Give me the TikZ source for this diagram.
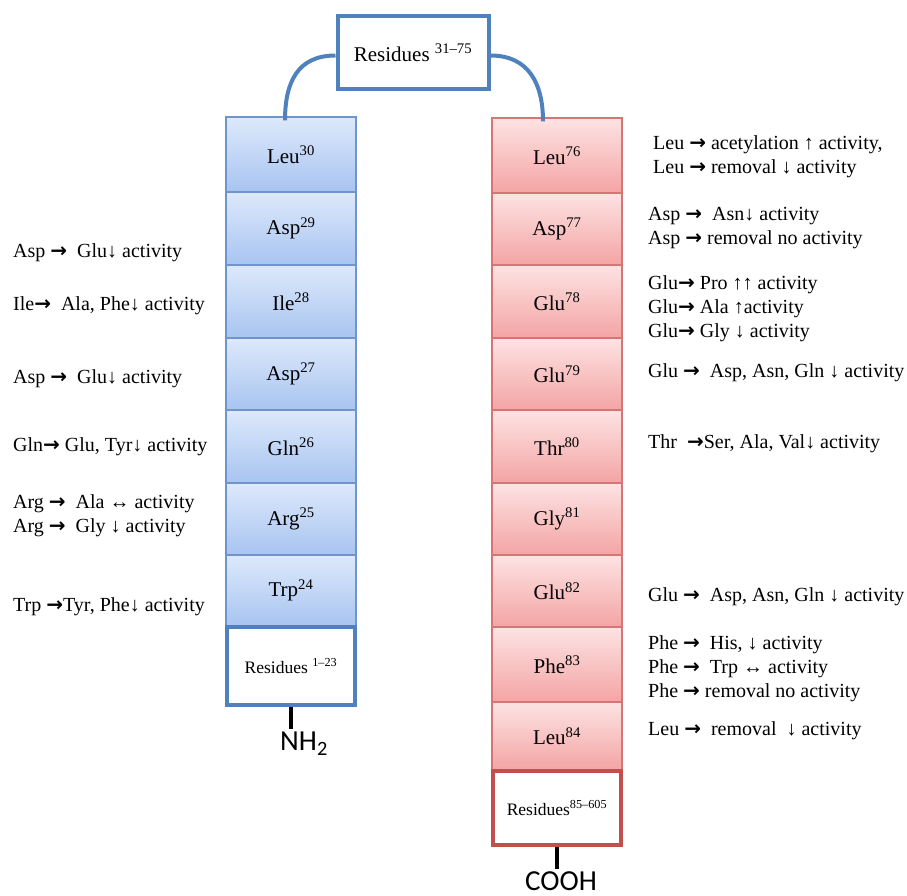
\documentclass[tikz,border=0pt]{standalone}
\usepackage{fontspec}
\setmainfont{Liberation Serif}
\newfontfamily\arrowfnt{DejaVu Sans Bold}
\newfontfamily\calib{Carlito}
\newcommand{\rarr}{\mbox{\arrowfnt →}}
\definecolor{bluetop}{HTML}{DDE9FB}
\definecolor{bluebot}{HTML}{A8C4F1}
\definecolor{blueline}{HTML}{6F95CB}
\definecolor{redtop}{HTML}{FDE3E3}
\definecolor{redbot}{HTML}{F4A4A4}
\definecolor{redline}{HTML}{D77474}
\definecolor{accblue}{HTML}{4F81BD}
\definecolor{accred}{HTML}{C0504D}
\tikzset{
  bluebox/.style={draw=blueline, line width=1.3pt, top color=bluetop, bottom color=bluebot,
    minimum width=130pt, inner sep=0pt, font=\rmfamily\fontsize{21}{24}\selectfont},
  redbox/.style={draw=redline, line width=1.3pt, top color=redtop, bottom color=redbot,
    minimum width=130pt, inner sep=0pt, font=\rmfamily\fontsize{21}{24}\selectfont},
  resblue/.style={draw=accblue, line width=4pt, fill=white, minimum width=128pt, inner sep=0pt,
    font=\rmfamily\fontsize{17.5}{20}\selectfont},
  resred/.style={draw=accred, line width=4pt, fill=white, minimum width=128pt, inner sep=0pt,
    font=\rmfamily\fontsize{17.5}{20}\selectfont},
  lab/.style={anchor=west, align=left, inner sep=0pt, font=\rmfamily\fontsize{20}{24}\selectfont},
  arcline/.style={draw=accblue, line width=4pt},
  stem/.style={draw=black, line width=3.5pt},
  term/.style={font=\calib\fontsize{29}{31}\selectfont, inner sep=0pt}
}
\begin{document}
\begin{tikzpicture}[x=1pt,y=-1pt]
\useasboundingbox (0,0) rectangle (907,896);
% top box
\node[draw=accblue, line width=4pt, fill=white, minimum width=151pt, minimum height=73pt,
  inner sep=0pt, font=\rmfamily\fontsize{21}{24}\selectfont] (top) at (413,52.5) {Residues \textsuperscript{31–75}};
% left column
\node[bluebox, minimum height=75pt] (leu30) at (291,154.5) {Leu\textsuperscript{30}};
\node[bluebox, minimum height=73pt] (asp29) at (291,228.5) {Asp\textsuperscript{29}};
\node[bluebox, minimum height=73pt] (ile28) at (291,301.5) {Ile\textsuperscript{28}};
\node[bluebox, minimum height=72pt] (asp27) at (291,374) {Asp\textsuperscript{27}};
\node[bluebox, minimum height=73pt] (gln26) at (291,446.5) {Gln\textsuperscript{26}};
\node[bluebox, minimum height=72pt] (arg25) at (291,519) {Arg\textsuperscript{25}};
\node[bluebox, minimum height=71pt] (trp24) at (291,590.5) {Trp\textsuperscript{24}};
\node[resblue, minimum height=78pt] (res1) at (291,666) {Residues \textsuperscript{1–23}};
% right column
\node[redbox, minimum height=75pt] (leu76) at (557,155.5) {Leu\textsuperscript{76}};
\node[redbox, minimum height=72pt] (asp77) at (557,229) {Asp\textsuperscript{77}};
\node[redbox, minimum height=73pt] (glu78) at (557,301.5) {Glu\textsuperscript{78}};
\node[redbox, minimum height=72pt] (glu79) at (557,374) {Glu\textsuperscript{79}};
\node[redbox, minimum height=73pt] (thr80) at (557,446.5) {Thr\textsuperscript{80}};
\node[redbox, minimum height=72pt] (gly81) at (557,519) {Gly\textsuperscript{81}};
\node[redbox, minimum height=72pt] (glu82) at (557,591) {Glu\textsuperscript{82}};
\node[redbox, minimum height=75pt] (phe83) at (557,664.5) {Phe\textsuperscript{83}};
\node[redbox, minimum height=68pt] (leu84) at (557,736) {Leu\textsuperscript{84}};
\node[resred, minimum height=74pt] (res85) at (557,808) {Residues\textsuperscript{85–605}};
% arcs
\draw[arcline] ([yshift=-3pt]top.west) .. controls +(-38,0) and +(0,-38) .. ([xshift=-6pt,yshift=-4pt]leu30.north);
\draw[arcline] ([yshift=-3pt]top.east) .. controls +(38,0) and +(0,-38) .. ([xshift=-14pt,yshift=-4pt]leu76.north);
% termini
\coordinate (nhend) at (291,729);
\draw[stem] (res1.south) -- (nhend);
\node[term, anchor=north] (nh2) at ([xshift=13pt,yshift=-3pt]nhend) {NH\textsubscript{2}};
\coordinate (coend) at (557,869);
\draw[stem] (res85.south) -- (coend);
\node[term, anchor=north] (cooh) at ([xshift=4pt,yshift=-2pt]coend) {COOH};
% left labels
\node[lab] (l29) at (13,253) {Asp \rarr\ \ Glu↓ activity};
\node[lab] (l28) at (13,306) {Ile\rarr\ \ Ala, Phe↓ activity};
\node[lab] (l27) at (13,379) {Asp \rarr\ \ Glu↓ activity};
\node[lab] (l26) at (13,447) {Gln\rarr\ Glu, Tyr↓ activity};
\node[lab] (l25) at (13,516) {Arg \rarr\ \ Ala ↔ activity\\Arg \rarr\ \ Gly ↓ activity};
\node[lab] (l24) at (13,607) {Trp \rarr Tyr, Phe↓ activity};
% right labels
\node[lab] (r76) at (653,157) {Leu \rarr\ acetylation ↑ activity,\\Leu \rarr\ removal ↓ activity};
\node[lab] (r77) at (648,228.5) {Asp \rarr\ \ Asn↓ activity\\Asp \rarr\ removal no activity};
\node[lab] (r78) at (648,309) {Glu\rarr\ Pro ↑↑ activity\\Glu\rarr\ Ala ↑activity\\Glu\rarr\ Gly ↓ activity};
\node[lab] (r79) at (648,373) {Glu \rarr\ \ Asp, Asn, Gln ↓ activity};
\node[lab] (r80) at (648,444) {Thr \ \rarr Ser, Ala, Val↓ activity};
\node[lab] (r82) at (648,597) {Glu \rarr\ \ Asp, Asn, Gln ↓ activity};
\node[lab] (r83) at (648,668.5) {Phe \rarr\ \ His, ↓ activity\\Phe \rarr\ \ Trp ↔ activity\\Phe \rarr\ removal no activity};
\node[lab] (r84) at (648,731) {Leu \rarr\ \ removal \ ↓ activity};
\end{tikzpicture}
\end{document}
